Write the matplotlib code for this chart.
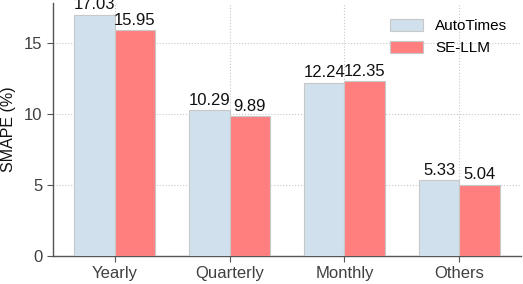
import matplotlib
matplotlib.use("Agg")
import matplotlib.pyplot as plt
import numpy as np

categories = ["Yearly", "Quarterly", "Monthly", "Others"]
autotimes = [17.03, 10.29, 12.24, 5.33]
se_llm = [15.95, 9.89, 12.35, 5.04]

plt.rcParams['font.family'] = ['Liberation Sans', 'DejaVu Sans']

fig = plt.figure(figsize=(5.23, 2.84), dpi=100)
ax = fig.add_axes([53/523, 28/284, 468/523, 253/284])
x = np.arange(len(categories))
w = 0.35
b1 = ax.bar(x - w/2, autotimes, w, color='#d0e1ed', edgecolor='#c8c8c8', linewidth=0.8, label='AutoTimes', zorder=3)
b2 = ax.bar(x + w/2, se_llm, w, color='#ff7f7f', edgecolor='#c8c8c8', linewidth=0.8, label='SE-LLM', zorder=3)
for bars, vals in ((b1, autotimes), (b2, se_llm)):
    for r, v in zip(bars, vals):
        ax.text(r.get_x() + r.get_width()/2, v + 0.15, f"{v:.2f}", ha='center', va='bottom', fontsize=12, color='#111111', zorder=4)

ax.set_ylim(0, 17.85)
ax.set_yticks([0, 5, 10, 15])
ax.set_xticks(x)
ax.set_xticklabels(categories)
ax.tick_params(axis='both', labelsize=12, color='#555555', labelcolor='#404040', length=4)
ax.set_ylabel('SMAPE (%)', fontsize=11.5, color='#111111', labelpad=6)
ax.grid(True, linestyle=':', color='#c8c8c8', linewidth=0.8, zorder=0)
for s in ('top', 'right'):
    ax.spines[s].set_visible(False)
for s in ('left', 'bottom'):
    ax.spines[s].set_color('#555555')
    ax.spines[s].set_linewidth(1.0)
ax.legend(fontsize=11, frameon=False, loc='upper right', bbox_to_anchor=(1.0, 0.99),
          handlelength=2.15, handleheight=0.8, labelspacing=0.5)
fig.savefig('out.png', dpi=100)
